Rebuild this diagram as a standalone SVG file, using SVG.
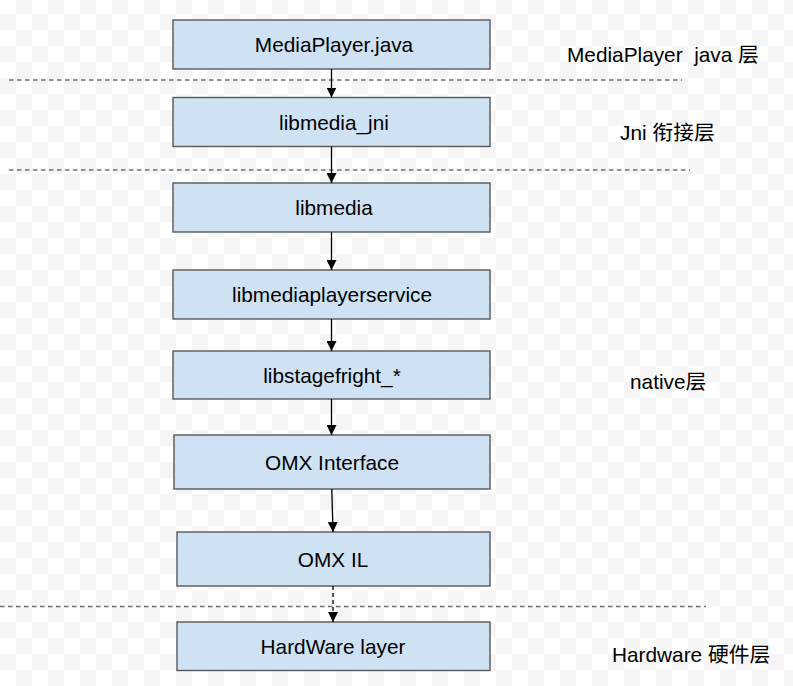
<svg xmlns="http://www.w3.org/2000/svg" width="793" height="686" viewBox="0 0 793 686">
<defs>
<pattern id="chk" x="0" y="-2" width="32" height="32" patternUnits="userSpaceOnUse">
<rect width="32" height="32" fill="#ffffff"/>
<rect x="16" y="0" width="16" height="16" fill="#f5f5f5"/>
<rect x="0" y="16" width="16" height="16" fill="#f5f5f5"/>
</pattern>
<marker id="ah" viewBox="0 0 10 10" refX="10" refY="5" markerWidth="10" markerHeight="10" markerUnits="userSpaceOnUse" orient="auto">
<path d="M0,0 L10,5 L0,10 Z" fill="#000"/>
</marker>
<style>
.box{fill:#cfe2f3;stroke:#595959;stroke-width:1.4}
.t{font-family:"Liberation Sans","Noto Sans CJK SC",sans-serif;font-size:20.8px;fill:#000;text-anchor:middle}
.l{font-family:"Liberation Sans","Noto Sans CJK SC",sans-serif;font-size:20.8px;fill:#000;white-space:pre}
.sep{stroke:#707070;stroke-width:1.5;stroke-dasharray:4.5,3.5;fill:none}
.c{stroke:#000;stroke-width:1.3;fill:none;marker-end:url(#ah)}
</style>
</defs>
<rect width="793" height="686" fill="url(#chk)"/>
<g id="separators">
<line class="sep" x1="9" y1="80" x2="682" y2="80"/>
<line class="sep" x1="9" y1="170" x2="690" y2="170"/>
<line class="sep" x1="0" y1="606.5" x2="706" y2="606.5"/>
</g>
<g id="n1"><rect class="box" x="173" y="20" width="317" height="49"/><text class="t" x="334" y="52">MediaPlayer.java</text></g>
<g id="n2"><rect class="box" x="173" y="97.5" width="317" height="49"/><text class="t" x="334" y="129.5">libmedia_jni</text></g>
<g id="n3"><rect class="box" x="173" y="183" width="317" height="49"/><text class="t" x="334" y="215">libmedia</text></g>
<g id="n4"><rect class="box" x="173" y="270" width="317" height="49"/><text class="t" x="332" y="302">libmediaplayerservice</text></g>
<g id="n5"><rect class="box" x="173" y="351" width="317" height="48"/><text class="t" x="332" y="382.5">libstagefright_*</text></g>
<g id="n6"><rect class="box" x="174" y="435" width="316" height="54"/><text class="t" x="332" y="469.5">OMX Interface</text></g>
<g id="n7"><rect class="box" x="177" y="532" width="313" height="54"/><text class="t" x="333" y="566.5">OMX IL</text></g>
<g id="n8"><rect class="box" x="177" y="622" width="313" height="48.5"/><text class="t" x="333" y="654">HardWare layer</text></g>
<g id="labels">
<text class="l" x="567" y="62" xml:space="preserve">MediaPlayer  java 层</text>
<text class="l" x="620" y="139.5">Jni 衔接层</text>
<text class="l" x="630" y="389">native层</text>
<text class="l" x="612" y="661.5">Hardware 硬件层</text>
</g>
<g id="connectors">
<line class="c" x1="331.5" y1="69" x2="331.5" y2="97.5"/>
<line class="c" x1="331.5" y1="146.5" x2="331.5" y2="183"/>
<line class="c" x1="331.5" y1="232" x2="331.5" y2="270"/>
<line class="c" x1="331.5" y1="319" x2="331.5" y2="351"/>
<line class="c" x1="331.5" y1="399" x2="331.5" y2="435"/>
<line class="c" x1="331.8" y1="489" x2="333" y2="532"/>
<line class="c" x1="333" y1="586" x2="333" y2="622" stroke-dasharray="4,3"/>
</g>
</svg>
